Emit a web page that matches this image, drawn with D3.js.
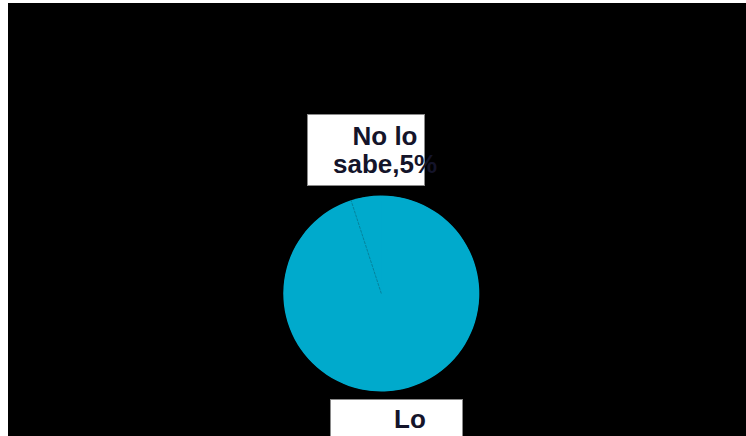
<!DOCTYPE html>
<html>
<head>
<meta charset="utf-8">
<script src="https://cdn.jsdelivr.net/npm/d3@7"></script>
<style>
  html, body { margin: 0; padding: 0; background: #ffffff; }
  svg { display: block; }
</style>
</head>
<body>
<svg id="chart" width="746" height="436"></svg>
<script>
// ---- data ----
const categories = ["Lo sabe", "No lo sabe"];
const values = [95, 5];
const labelLines = [["Lo", "sabe,95%"], ["No lo", "sabe,5%"]];

// ---- layout ----
const W = 746, H = 436;
const cx = 381.3, cy = 293.5, R = 98;
const sliceColor = "#00AACC";

const svg = d3.select("#chart");

// black plot background
svg.append("rect")
  .attr("x", 8).attr("y", 3)
  .attr("width", W - 8).attr("height", H - 3)
  .attr("fill", "#000000");

const pie = d3.pie().sort(null).value(d => d)(values);
const arc = d3.arc().innerRadius(0).outerRadius(R);

const g = svg.append("g").attr("transform", `translate(${cx},${cy})`);
// underlay to hide antialiasing seams between same-coloured slices
g.append("circle").attr("r", R - 0.5).attr("fill", sliceColor);
g.selectAll("path.slice")
  .data(pie)
  .join("path")
  .attr("class", "slice")
  .attr("d", arc)
  .attr("fill", sliceColor);

// seam between slices (at slice boundary of the small slice)
const small = pie[1];
g.append("line")
  .attr("x1", 0).attr("y1", 0)
  .attr("x2", R * Math.sin(small.startAngle))
  .attr("y2", -R * Math.cos(small.startAngle))
  .attr("stroke", "#06788f")
  .attr("stroke-width", 0.8)
  .attr("stroke-dasharray", "3,1");

// label boxes (offsets relative to pie center)
const labelLayout = [
  { box: [-50.8, 106, 132, 60], textX: 28.7, baseY: 134.5 },   // Lo sabe
  { box: [-73.8, -179, 117, 71], textX: 3.7, baseY: -148.5 }    // No lo sabe
];

pie.forEach((p, i) => {
  const L = labelLayout[i];
  const lg = svg.append("g").attr("transform", `translate(${cx},${cy})`);
  lg.append("rect")
    .attr("x", L.box[0]).attr("y", L.box[1])
    .attr("width", L.box[2]).attr("height", L.box[3])
    .attr("fill", "#ffffff")
    .attr("stroke", "#8a8a8a")
    .attr("stroke-width", 1);
  const t = lg.append("text")
    .attr("text-anchor", "middle")
    .attr("font-family", "Liberation Sans, Arial, sans-serif")
    .attr("font-weight", "bold")
    .attr("font-size", 26)
    .attr("fill", "#14142a");
  labelLines[i].forEach((line, j) => {
    t.append("tspan")
      .attr("x", L.textX)
      .attr("y", L.baseY + j * 28)
      .text(line);
  });
});
</script>
</body>
</html>
